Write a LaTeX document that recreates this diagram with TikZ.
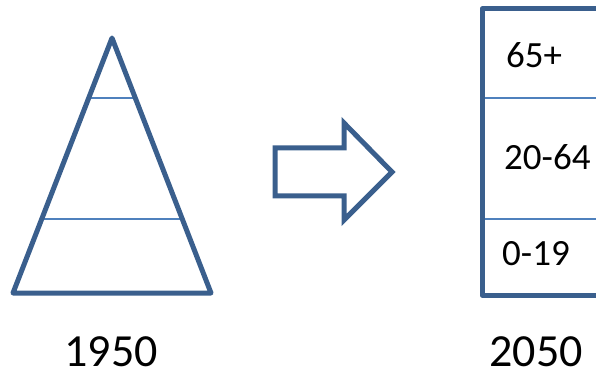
\documentclass[tikz,border=0pt]{standalone}
\usepackage{fontspec}
\setmainfont{Carlito}
\usetikzlibrary{calc}
\definecolor{outl}{HTML}{3A5F8D}
\definecolor{thin}{HTML}{4F81BD}
\tikzset{
  thick outline/.style={draw=outl, line width=5pt, line join=round},
  thin line/.style={draw=thin, line width=2.2pt},
  small label/.style={font=\fontsize{37}{44}\selectfont, inner sep=0pt, anchor=base west},
  year label/.style={font=\fontsize{46}{54}\selectfont, inner sep=0pt, anchor=base},
}
\begin{document}
\begin{tikzpicture}[x=1pt,y=-1pt]
\useasboundingbox (0,0) rectangle (596,371);
\clip (0,0) rectangle (596,371);
% pyramid 1950
\coordinate (apex) at (112,38);
\coordinate (bl) at (13,293);
\coordinate (br) at (211,293);
\draw[thin line] ($(apex)!0.235!(bl)$) -- ($(apex)!0.235!(br)$);
\draw[thin line] ($(apex)!0.71!(bl)$) -- ($(apex)!0.71!(br)$);
\draw[thick outline] (apex) -- (bl) -- (br) -- cycle;
% arrow
\draw[thick outline, line join=miter] (275,148) -- (344,148) -- (344,123) -- (392,172) -- (344,220) -- (344,196) -- (275,196) -- cycle;
% column 2050
\draw[thin line] (482,98) -- (600,98);
\draw[thin line] (482,219) -- (600,219);
\draw[thick outline] (610,9) -- (482,9) -- (482,295) -- (610,295);
\node[small label] (old) at (506,68) {65+};
\node[small label] (mid) at (504,170) {20-64};
\node[small label] (young) at (502,265) {0-19};
\node[year label] (y1950) at (111,366) {1950};
\node[year label] (y2050) at (536,366) {2050};
\end{tikzpicture}
\end{document}
